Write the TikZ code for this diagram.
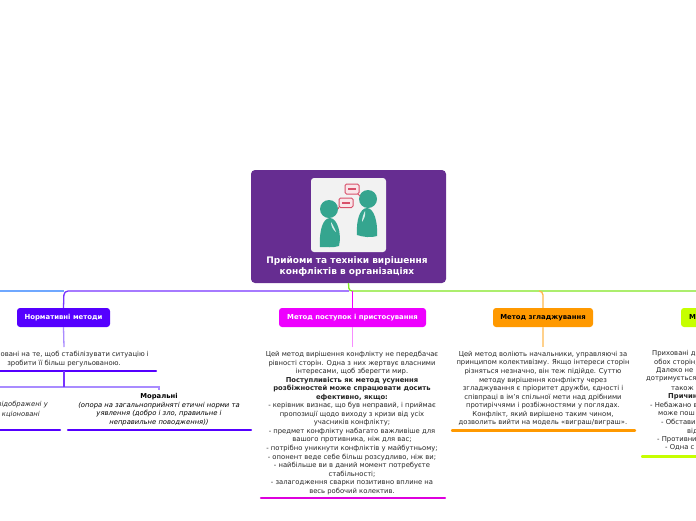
\documentclass[tikz,border=0pt]{standalone}
\usepackage{fontspec}
\setmainfont{DejaVu Sans}
\usepackage{xcolor}
\usetikzlibrary{arrows.meta}
\definecolor{rootpurple}{HTML}{662D91}
\definecolor{normblue}{HTML}{5500FF}
\definecolor{normlight}{HTML}{A98BFF}
\definecolor{skyline}{HTML}{6FA8FF}
\definecolor{yieldpink}{HTML}{EE00FF}
\definecolor{yieldbar}{HTML}{DD00DD}
\definecolor{smoothorange}{HTML}{FF9900}
\definecolor{hidelime}{HTML}{C6FF00}
\definecolor{spinegreen}{HTML}{7FE51E}
\definecolor{iconteal}{HTML}{35A58F}
\definecolor{iconred}{HTML}{D8506A}
\tikzset{
    method/.style={rounded corners=3pt, minimum height=19pt, inner sep=0pt, font=\fontsize{6.9}{8}\selectfont\bfseries},
    bodytext/.style={align=center, inner sep=0pt, anchor=north, font=\fontsize{6.8}{8.55}\selectfont, text=black!85},
    cutline/.style={inner sep=0pt, font=\fontsize{6.8}{8.55}\selectfont, text=black!85},
    bar/.style={line width=2.4pt, line cap=round},
    link/.style={line width=1.3pt},
    bubble/.style={draw=iconred, fill=white!85!iconred, line width=1pt, rounded corners=1.5pt},
}
\begin{document}
\begin{tikzpicture}[x=1pt,y=-1pt]
    \clip[use as bounding box] (0,0) rectangle (696,520);

    % central topic
    \node[fill=rootpurple, rounded corners=4pt, minimum width=195pt, minimum height=113pt, inner sep=0pt] (root) at (348.5,226.5) {};
    \node[fill=black!5, rounded corners=3pt, minimum width=75pt, minimum height=74pt, inner sep=0pt] (photo) at (348.5,215) {};
    \node[align=center, inner sep=0pt, text=white, font=\fontsize{9}{11}\selectfont\bfseries] (title) at (347,266.5) {Прийоми та техніки вирішення\\конфліктів в організаціях};

    % the two people
    \fill[iconteal] (329,209) circle (9);
    \fill[iconteal] (320,247) .. controls (319,230) and (323,218) .. (330,218) .. controls (337,218) and (342,233) .. (339,246) .. controls (333,248) and (326,247) .. (320,247);
    \fill[white, opacity=0.8] (331,222) .. controls (333,225) and (335,229) .. (336,232) .. controls (333,230) and (331,226) .. (331,222);
    \fill[iconteal] (368,199) circle (9);
    \fill[iconteal] (357,235) .. controls (356,220) and (360,208) .. (367,208) .. controls (374,208) and (378,222) .. (377,236) .. controls (371,238) and (363,237) .. (357,235);
    \fill[white, opacity=0.8] (365,211) .. controls (363,215) and (362,219) .. (362,222) .. controls (364,219) and (366,215) .. (365,211);

    % speech bubbles
    \draw[bubble] (345,184) rectangle (359,194);
    \draw[iconred, line width=0.9pt] (358,194) -- (360,196);
    \draw[iconred, line width=1.2pt] (348,189) -- (356,189);
    \draw[bubble] (339,198) rectangle (353,207.5);
    \draw[iconred, line width=0.9pt] (339,207) -- (338,209);
    \draw[iconred, line width=1.2pt] (342,203) -- (350,203);

    % methods
    \node[method, fill=normblue, text=white, minimum width=93pt] (norm) at (63.5,317.5) {Нормативні методи};
    \node[method, fill=yieldpink, text=white, minimum width=147pt] (yield) at (352.5,317.5) {Метод поступок і пристосування};
    \node[method, fill=smoothorange, text=black, minimum width=100pt] (smooth) at (543,317.5) {Метод згладжування};
    \node[method, fill=hidelime, text=black, minimum width=40pt, text width=24pt] (hide) at (701,317.5) {Ме};

    % branches
    \coordinate (fork) at (349,291);
    \coordinate (leftend) at (0,291);
    \coordinate (rightend) at (696,291);
    \draw[link, skyline] (leftend) -- (64,291);
    \draw[link, normblue!80!white, rounded corners=4pt] (norm.north) -- (64,291) -- (fork);
    \draw[link, spinegreen, rounded corners=3pt] (root.south) -- (fork) -- (rightend);
    \draw[link, yieldpink] (yield.north) -- (352.5,291);
    \draw[link, smoothorange!70!white, rounded corners=4pt] (smooth.north) -- (543,291) -- (539,291);

    % text under the methods
    \node[cutline, anchor=east] (normone) at (149,355) {овані на те, щоб стабілізувати ситуацію і};
    \node[cutline] (normtwo) at (64,363.5) {зробити її більш регульованою.};
    \draw[bar, normblue] (0,371) coordinate (normleft) -- (156,371) coordinate (normbar);
    \coordinate (normtop) at (64,371);
    \coordinate (normmid) at (64,387);
    \draw[link, normlight] (norm.south) -- (64,347);
    \draw[link, normlight] (0,387) -- (normmid) -- (159,387) -- (159,390);
    \draw[link, normblue!80!white] (normtop) -- (normmid);

    \node[cutline, anchor=east, font=\fontsize{6.8}{8.55}\selectfont\itshape] (lawone) at (48,405) {відображені у};
    \node[cutline, anchor=east, font=\fontsize{6.8}{8.55}\selectfont\itshape] (lawtwo) at (40,414) {кціоновані};
    \draw[bar, normblue] (0,430) -- (60,430);
    \node[bodytext, text=black] (moral) at (159,393.2) {\textbf{Моральні}\\\textit{(опора на загальноприйняті етичні норми та}\\\textit{уявлення (добро і зло, правильне і}\\\textit{неправильне поводження))}};
    \draw[bar, normblue] (68,430) -- (251,430);

    \draw[link, yieldpink!45!white] (yield.south) -- (352.5,347);
    \node[bodytext] (yieldtext) at (352,351) {Цей метод вирішення конфлікту не передбачає\\
        рівності сторін. Одна з них жертвує власними\\
        інтересами, щоб зберегти мир.\\
        \textbf{Поступливість як метод усунення}\\
        \textbf{розбіжностей може спрацювати досить}\\
        \textbf{ефективно, якщо:}\\
        - керівник визнає, що був неправий, і приймає\\
        пропозиції щодо виходу з кризи від усіх\\
        учасників конфлікту;\\
        - предмет конфлікту набагато важливіше для\\
        вашого противника, ніж для вас;\\
        - потрібно уникнути конфліктів у майбутньому;\\
        - опонент веде себе більш розсудливо, ніж ви;\\
        - найбільше ви в даний момент потребуєте\\
        стабільності;\\
        - залагодження сварки позитивно вплине на\\
        весь робочий колектив.};
    \draw[bar, yieldbar] (261,498) -- (445,498);

    \draw[link, smoothorange!45!white] (smooth.south) -- (543,347);
    \node[bodytext] (smoothtext) at (543,351) {Цей метод воліють начальники, управляючі за\\
        принципом колективізму. Якщо інтереси сторін\\
        різняться незначно, він теж підійде. Суттю\\
        методу вирішення конфлікту через\\
        згладжування є пріоритет дружби, єдності і\\
        співпраці в ім'я спільної мети над дрібними\\
        протиріччями і розбіжностями у поглядах.\\
        Конфлікт, який вирішено таким чином,\\
        дозволить вийти на модель «виграш/виграш».};
    \draw[bar, smoothorange] (452,430.5) -- (635,430.5);

    % right column runs off the page
    \foreach \startx/\liney/\linetext [count=\n] in {
        652/354/{Приховані д}, 654/362.5/{обох сторін,}, 656/371/{Далеко не}, 646/379.5/{дотримується},
        671/388/{також і}, 668/396.5/{\textbf{Причин}}, 650/405/{- Небажано в}, 658/413.5/{може пош},
        661/422/{- Обстави}, 687/431/{від}, 657/439.5/{- Противни}, 665/447.5/{- Одна с}}
        \node[cutline, anchor=west] (hideline\n) at (\startx,\liney) {\linetext};
    \draw[bar, hidelime] (642,456.5) -- (700,456.5);
\end{tikzpicture}
\end{document}
